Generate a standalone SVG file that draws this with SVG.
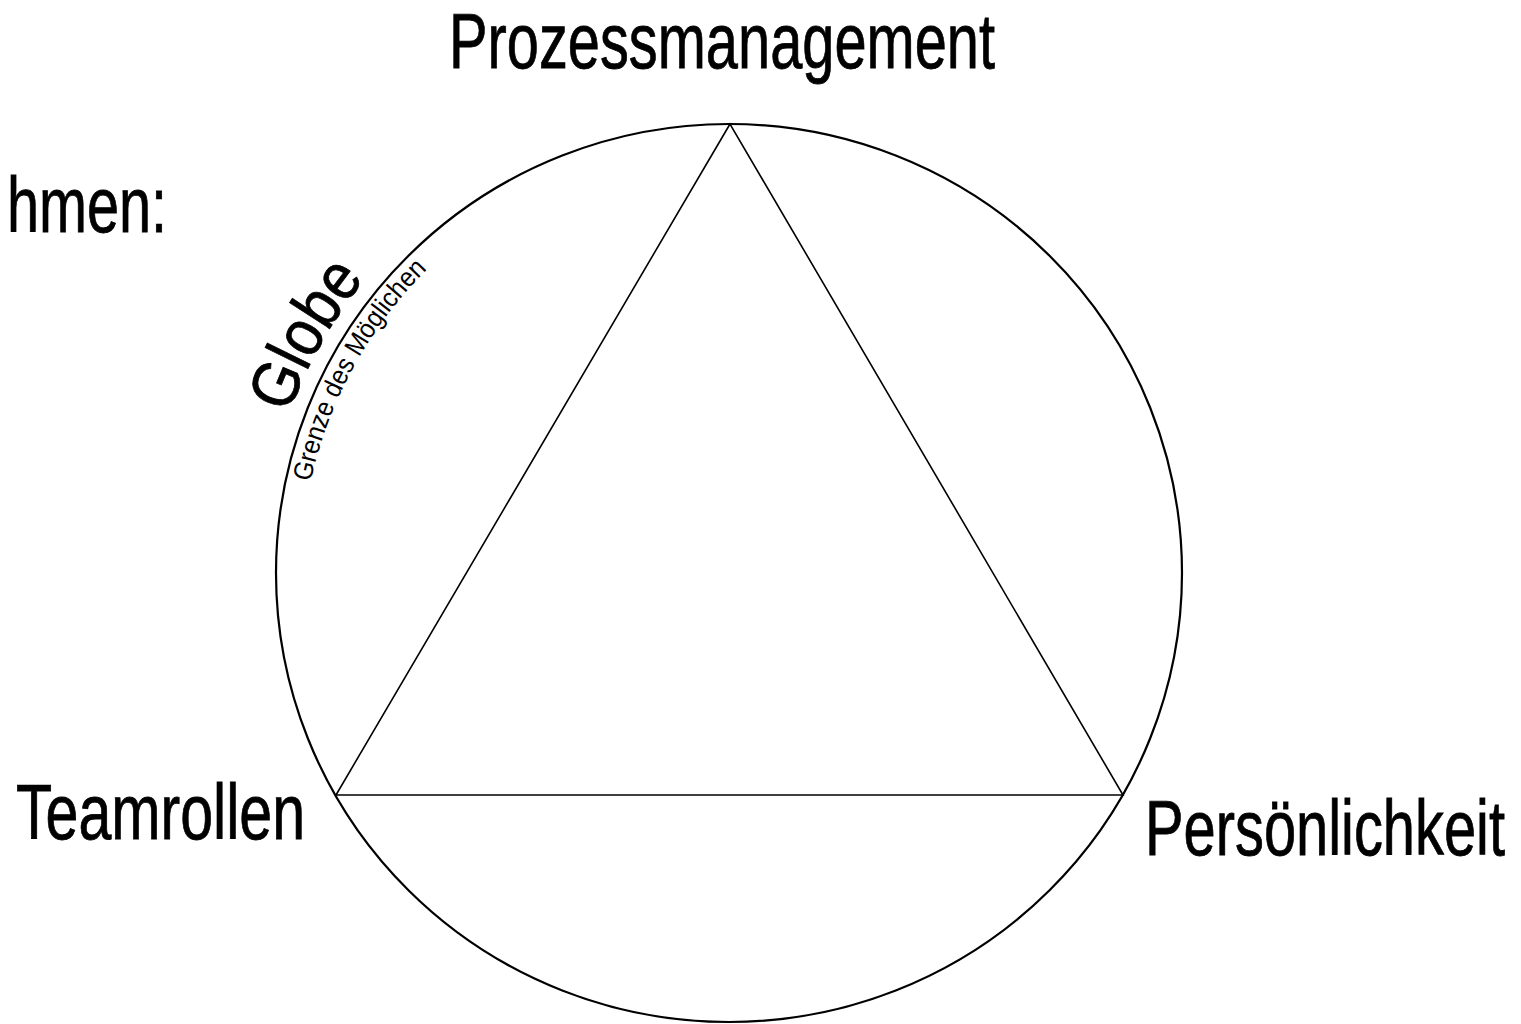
<svg xmlns="http://www.w3.org/2000/svg" xmlns:xlink="http://www.w3.org/1999/xlink" width="1521" height="1024" viewBox="0 0 1521 1024">
<style>
.lbl{font-family:"Liberation Sans",Arial,sans-serif;fill:#000;}
.big{font-size:77px;stroke:#000;stroke-width:0.8px;}
.ln{fill:none;stroke:#000;}
</style>
<defs>
<path id="pGlobe" d="M 729 1041 A 468 468 0 1 1 729 105 A 468 468 0 1 1 729 1041"/>
<path id="pGrenze" d="M 729 1001 A 428 428 0 1 1 729 145 A 428 428 0 1 1 729 1001"/>
</defs>
<rect width="1521" height="1024" fill="#fff"/>
<g id="globe">
<ellipse class="ln" cx="729" cy="573" rx="453" ry="449" stroke-width="2.2"/>
</g>
<g id="connectors">
<polygon class="ln" points="730,124 336,795 1123,795" stroke-width="1.6"/>
</g>
<g id="node-prozess"><text class="lbl big" x="449" y="68" textLength="546" lengthAdjust="spacingAndGlyphs">Prozessmanagement</text></g>
<g id="node-team"><text class="lbl big" x="16" y="839" textLength="289" lengthAdjust="spacingAndGlyphs">Teamrollen</text></g>
<g id="node-pers"><text class="lbl big" x="1145" y="855" textLength="360" lengthAdjust="spacingAndGlyphs">Persönlichkeit</text></g>
<g id="node-rahmen"><text class="lbl big" x="7" y="232" textLength="160" lengthAdjust="spacingAndGlyphs">hmen:</text></g>
<g id="label-globe">
<text class="lbl" font-size="66" stroke="#000" stroke-width="0.8"><textPath xlink:href="#pGlobe" href="#pGlobe" startOffset="897" textLength="156" lengthAdjust="spacingAndGlyphs">Globe</textPath></text>
<text class="lbl" font-size="27"><textPath xlink:href="#pGrenze" href="#pGrenze" startOffset="764" textLength="246" lengthAdjust="spacingAndGlyphs">Grenze des Möglichen</textPath></text>
</g>
</svg>
